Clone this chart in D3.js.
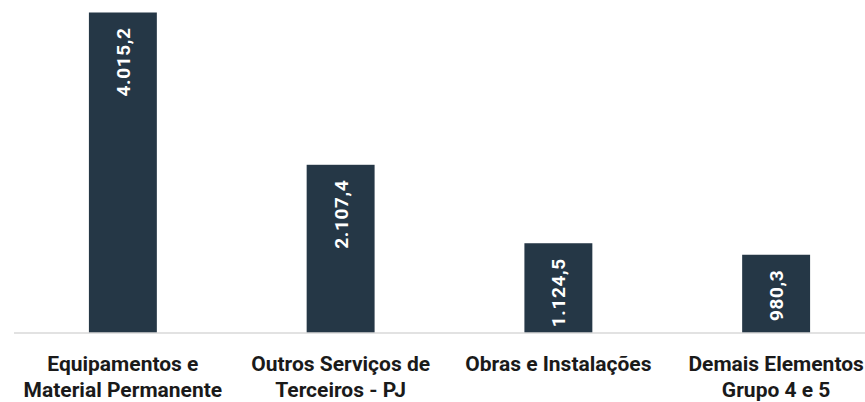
<!DOCTYPE html>
<html>
<head>
<meta charset="utf-8">
<script src="https://cdn.jsdelivr.net/npm/d3@7"></script>
<style>
  html, body { margin: 0; padding: 0; background: #ffffff; overflow: hidden; }
  svg { display: block; }
</style>
</head>
<body>
<svg id="chart" width="865" height="402"></svg>
<script>
// Expenditure by element (values in the chart's unit)
const categories = [
  ["Equipamentos e", "Material Permanente"],
  ["Outros Serviços de", "Terceiros - PJ"],
  ["Obras e Instalações"],
  ["Demais Elementos", "Grupo 4 e 5"]
];
const values = [4015.2, 2107.4, 1124.5, 980.3];
const valueLabels = ["4.015,2", "2.107,4", "1.124,5", "980,3"];

const W = 865, H = 402;
const baseY = 333;
const svg = d3.select("#chart");

const keys = categories.map((c, i) => i);
const x = d3.scaleBand()
  .domain(keys)
  .range([14, 885])
  .paddingInner(0.688)
  .paddingOuter(0.344);

const y = d3.scaleLinear()
  .domain([0, 4015.2])
  .range([baseY, 12.5]);

// bars
svg.append("g").selectAll("rect")
  .data(values)
  .join("rect")
  .attr("x", (d, i) => x(i))
  .attr("width", x.bandwidth())
  .attr("y", d => y(d))
  .attr("height", d => baseY - y(d))
  .attr("fill", "#253746");

// baseline axis
const axis = d3.axisBottom(x).tickSize(0).tickFormat(() => "");
const axisG = svg.append("g")
  .attr("transform", `translate(0,${baseY})`)
  .call(axis);
axisG.select(".domain")
  .attr("stroke", "#d9d9d9")
  .attr("stroke-width", 1.5)
  .attr("d", `M14,0H885`);

// value labels, rotated inside bars
svg.append("g").selectAll("text")
  .data(values)
  .join("text")
  .attr("transform", (d, i) => `translate(${x(i) + x.bandwidth() / 2 + 7},${y(d) + 15}) rotate(-90)`)
  .attr("text-anchor", "end")
  .attr("fill", "#ffffff")
  .attr("font-family", "Roboto, 'Open Sans', sans-serif")
  .attr("font-weight", 700)
  .attr("font-size", 19)
  .attr("letter-spacing", 0.6)
  .text((d, i) => valueLabels[i]);

// category labels
const catG = svg.append("g").selectAll("text")
  .data(categories)
  .join("text")
  .attr("text-anchor", "middle")
  .attr("fill", "#1a1a1a")
  .attr("font-family", "Roboto, 'Open Sans', sans-serif")
  .attr("font-weight", 700)
  .attr("font-size", 21);

catG.selectAll("tspan")
  .data((d, i) => d.map(line => ({ line, i })))
  .join("tspan")
  .attr("x", d => x(d.i) + x.bandwidth() / 2)
  .attr("y", (d, j) => 371 + j * 26)
  .text(d => d.line);
</script>
</body>
</html>
